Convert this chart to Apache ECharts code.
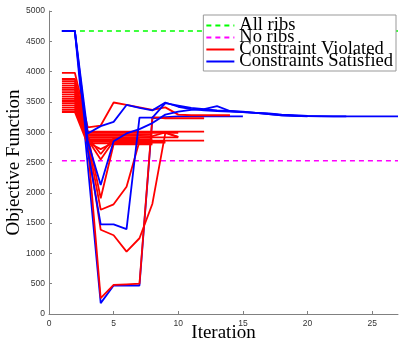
<!DOCTYPE html>
<html>
<head>
<meta charset="utf-8">
<script src="https://cdn.jsdelivr.net/npm/echarts@6/dist/echarts.min.js"></script>
<style>
  html, body { margin: 0; padding: 0; background: #fff; }
  #chart { width: 399px; height: 342px; }
</style>
</head>
<body>
<div id="chart"></div>
<script>
// reference levels
const allRibs = 4670;
const noRibs = 2530;
const iterRange = [1, 27];

// objective per iteration (iteration = index + 1)
const violatedRuns = [
  [3980, 3980, 3080, 3110, 3490, 3450, 3410, 3370, 3410, 3290, 3280, 3280, 3280, 3280],
  [3878, 3878, 3010, 3010, 3010, 3010, 3010, 3010, 3010, 3010, 3010, 3010],
  [3842, 3842, 2990, 2990, 2990, 2990, 2990, 2990, 2990, 2990],
  [3806, 3806, 2965, 2965, 2965, 2965, 2965, 2965],
  [3769, 3769, 2940, 2940, 2940, 2940, 2940, 2935, 2995, 2925],
  [3733, 3733, 2915, 2915, 2915, 2915, 2915, 2915, 2915, 2915],
  [3697, 3697, 2885, 2885, 2885, 2885, 2885, 2885],
  [3660, 3660, 2860, 2860, 2860, 2860, 2860, 2860, 2860, 2860, 2860, 2860],
  [3624, 3624, 2840, 2840, 2840, 2840, 2840, 2840, 2840],
  [3588, 3588, 2815, 2815, 2815, 2815, 2815, 2815],
  [3551, 3551, 2790, 260, 480, 490, 500, 3250, 3230, 3230, 3230, 3230],
  [3515, 3515, 2880, 2550, 2860, 2860, 2860, 2860],
  [3479, 3479, 2920, 2640, 2900, 2900, 2900],
  [3442, 3442, 2830, 2720, 2830, 2830, 2830, 2830, 2830],
  [3406, 3406, 2950, 1910, 2800, 2800, 2800, 2800],
  [3370, 3370, 2850, 1720, 1810, 2100, 2850, 2850],
  [3333, 3333, 2800, 1390, 1300, 1030, 1250, 1820, 2990, 2920]
];

const satisfiedRuns = [
  [4670, 4670, 2450, 180, 470, 470, 470, 3230, 3250, 3260, 3260, 3260, 3260, 3260, 3260],
  [4670, 4670, 2700, 1480, 1480, 1400, 3240, 3240, 3480, 3440, 3400, 3380, 3360, 3350, 3340, 3320, 3300, 3280, 3270, 3260],
  [4670, 4670, 2850, 2130, 2850, 2980, 3050, 3150, 3290, 3340, 3370, 3380, 3430, 3350, 3330, 3320, 3310, 3290, 3280, 3270, 3265, 3260, 3260, 3260, 3260, 3260, 3260],
  [4670, 4670, 2980, 3100, 3170, 3450, 3400, 3360, 3490, 3420, 3380, 3360, 3350, 3340, 3330, 3320, 3300, 3280, 3270, 3265, 3260, 3260, 3260]
];

const legendNames = ['All ribs', 'No ribs', 'Constraint Violated', 'Constraints Satisfied'];

const serif = '"Liberation Serif", "DejaVu Serif", serif';
const sans = '"Liberation Sans", Arial, sans-serif';

const toPoints = run => run.map((v, i) => [i + 1, v]);

function runSeries(run, name, color, z) {
  return {
    name: name,
    type: 'line',
    data: toPoints(run),
    symbol: 'none',
    z: z,
    lineStyle: { color: color, width: 1.8 },
    itemStyle: { color: color }
  };
}

const series = [
  {
    name: legendNames[0],
    type: 'line',
    data: [[iterRange[0], allRibs], [iterRange[1], allRibs]],
    symbol: 'none',
    z: 1,
    lineStyle: { color: '#00ff00', width: 1.5, type: [5, 4] },
    itemStyle: { color: '#00ff00' }
  },
  {
    name: legendNames[1],
    type: 'line',
    data: [[iterRange[0], noRibs], [iterRange[1], noRibs]],
    symbol: 'none',
    z: 1,
    lineStyle: { color: '#ff00ff', width: 1.5, type: [5, 4] },
    itemStyle: { color: '#ff00ff' }
  }
];

// the deepest blue run sits under the red ones, the rest on top
satisfiedRuns.slice(0, 1).forEach(r => series.push(runSeries(r, legendNames[3], '#0000ff', 2)));
violatedRuns.forEach(r => series.push(runSeries(r, legendNames[2], '#ff0000', 3)));
satisfiedRuns.slice(1).forEach(r => series.push(runSeries(r, legendNames[3], '#0000ff', 4)));

const chart = echarts.init(document.getElementById('chart'));

chart.setOption({
  animation: false,
  grid: { left: 49, right: 1, top: 11, bottom: 28, outerBoundsMode: 'none' },
  legend: {
    data: legendNames,
    orient: 'vertical',
    right: 3,
    top: 15,
    itemWidth: 28,
    itemHeight: 12,
    itemGap: -7,
    padding: [1, 3, 0, 2],
    backgroundColor: '#fff',
    borderColor: '#999',
    borderWidth: 1,
    borderRadius: 0,
    itemStyle: { opacity: 0 },
    textStyle: { fontFamily: serif, fontSize: 18.5, color: '#000' }
  },
  xAxis: {
    type: 'value',
    min: 0,
    max: 27,
    interval: 5,
    name: 'Iteration',
    nameLocation: 'middle',
    nameGap: 10,
    nameMoveOverlap: false,
    nameTextStyle: { fontFamily: serif, fontSize: 19, color: '#000' },
    axisLine: { lineStyle: { color: '#808080', width: 1 } },
    axisTick: { inside: true, length: 3, lineStyle: { color: '#808080' } },
    axisLabel: { fontFamily: sans, fontSize: 8.5, color: '#333', margin: 5, showMaxLabel: false },
    splitLine: { show: false }
  },
  yAxis: {
    type: 'value',
    min: 0,
    max: 5000,
    interval: 500,
    name: 'Objective Function',
    nameLocation: 'middle',
    nameGap: 25,
    nameMoveOverlap: false,
    nameTextStyle: { fontFamily: serif, fontSize: 19, color: '#000' },
    axisLine: { show: true, lineStyle: { color: '#808080', width: 1 } },
    axisTick: { show: true, inside: true, length: 3, lineStyle: { color: '#808080' } },
    axisLabel: { fontFamily: sans, fontSize: 8.5, color: '#333', margin: 4, formatter: v => String(v) },
    splitLine: { show: false }
  },
  series: series
});
</script>
</body>
</html>
